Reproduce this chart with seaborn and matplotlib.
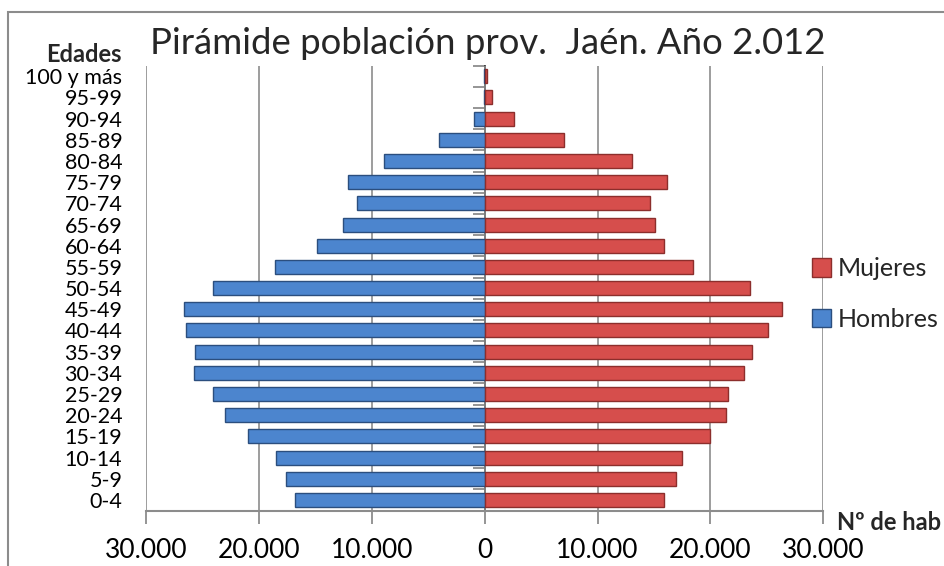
import matplotlib
matplotlib.use("Agg")
import matplotlib.pyplot as plt
import matplotlib.ticker as mticker
from matplotlib.patches import Rectangle, Patch
import seaborn as sns
import pandas as pd

# Data (ascending age groups)
edades = ["0-4", "5-9", "10-14", "15-19", "20-24", "25-29", "30-34", "35-39",
          "40-44", "45-49", "50-54", "55-59", "60-64", "65-69", "70-74",
          "75-79", "80-84", "85-89", "90-94", "95-99", "100 y más"]
hombres = [16770, 17600, 18460, 20940, 22980, 24050, 25730, 25640, 26440,
           26620, 24050, 18550, 14820, 12570, 11270, 12070, 8960, 4080,
           980, 100, 30]
mujeres = [15850, 16920, 17450, 19940, 21360, 21530, 22960, 23670, 25080,
           26330, 23490, 18430, 15850, 15060, 14610, 16120, 13010, 7070,
           2600, 680, 200]
xticks = [-30000, -20000, -10000, 0, 10000, 20000, 30000]

sns.set_theme(style="white")
plt.rcParams["font.family"] = ["Lato", "DejaVu Sans"]

df = pd.DataFrame({
    "Edad": edades * 2,
    "Sexo": ["Hombres"] * len(edades) + ["Mujeres"] * len(edades),
    "Valor": [-v for v in hombres] + list(mujeres),
})

col_h = "#4C85CE"
col_m = "#D64E4C"
edge_h = "#2B4E7E"
edge_m = "#8C2E2C"

fig = plt.figure(figsize=(9.45, 5.66), dpi=100)
ax = fig.add_axes([146 / 945, 1 - 510.5 / 566, (823.3 - 146) / 945, (510.5 - 65.7) / 566])

sns.barplot(data=df, y="Edad", x="Valor", hue="Sexo", order=edades[::-1],
            hue_order=["Hombres", "Mujeres"], dodge=False, width=0.66,
            palette={"Hombres": col_h, "Mujeres": col_m}, orient="h",
            ax=ax, legend=False, zorder=3, saturation=1)
for p in ax.patches:
    p.set_edgecolor(edge_h if p.get_x() + p.get_width() <= 0 else edge_m)
    p.set_linewidth(1.0)

ax.set_xlim(-30000, 30000)
ax.set_xticks(xticks)
ax.xaxis.set_major_formatter(mticker.FuncFormatter(
    lambda v, pos: f"{abs(int(v)):,}".replace(",", ".")))
ax.grid(axis="x", color="#8C8C8C", linewidth=1.2, zorder=0)
ax.grid(axis="y", visible=False)
for s in ["left", "right", "top"]:
    ax.spines[s].set_visible(False)
ax.spines["bottom"].set_color("#8C8C8C")
ax.spines["bottom"].set_linewidth(1.5)
ax.tick_params(axis="x", direction="out", length=9, width=1.3, color="#8C8C8C",
               labelsize=19, pad=11, labelcolor="black", bottom=True)
ax.tick_params(axis="y", length=0, labelsize=15.5, pad=17, labelcolor="black")
for lbl in ax.get_yticklabels():
    lbl.set_horizontalalignment("right")
ax.set_xlabel("")
ax.set_ylabel("")

# zero axis with category boundary ticks
sec = ax.secondary_yaxis(0.5)
sec.set_yticks([i + 0.5 for i in range(-1, len(edades))])
sec.set_yticklabels([])
sec.tick_params(axis="y", direction="in", length=9, width=1.3, color="#8C8C8C")
sec.spines["left"].set_color("#8C8C8C")
sec.spines["left"].set_linewidth(1.5)

# legend
handles = [Patch(facecolor=col_m, edgecolor=edge_m, label="Mujeres"),
           Patch(facecolor=col_h, edgecolor=edge_h, label="Hombres")]
fig.legend(handles=handles, loc="center left", bbox_to_anchor=(812 / 945, 1 - 294 / 566),
           frameon=False, fontsize=18, handlelength=0.75, handleheight=0.75,
           handletextpad=0.3, labelspacing=1.1, borderaxespad=0, borderpad=0)

fig.text(488 / 945, 1 - 43 / 566, "Pirámide población prov.  Jaén. Año 2.012",
         ha="center", va="center", fontsize=26.3)
fig.text(122 / 945, 1 - 55 / 566, "Edades", ha="right", va="center",
         fontsize=17, fontweight="bold")
fig.text(941 / 945, 1 - 523 / 566, "Nº de hab", ha="right", va="center",
         fontsize=17, fontweight="bold")

fig.add_artist(Rectangle((8 / 945, -0.1), 1.2, 1 - 12 / 566 + 0.1,
                         transform=fig.transFigure, fill=False,
                         edgecolor="#8C8C8C", linewidth=1.5))

fig.savefig("out.png", dpi=100)
